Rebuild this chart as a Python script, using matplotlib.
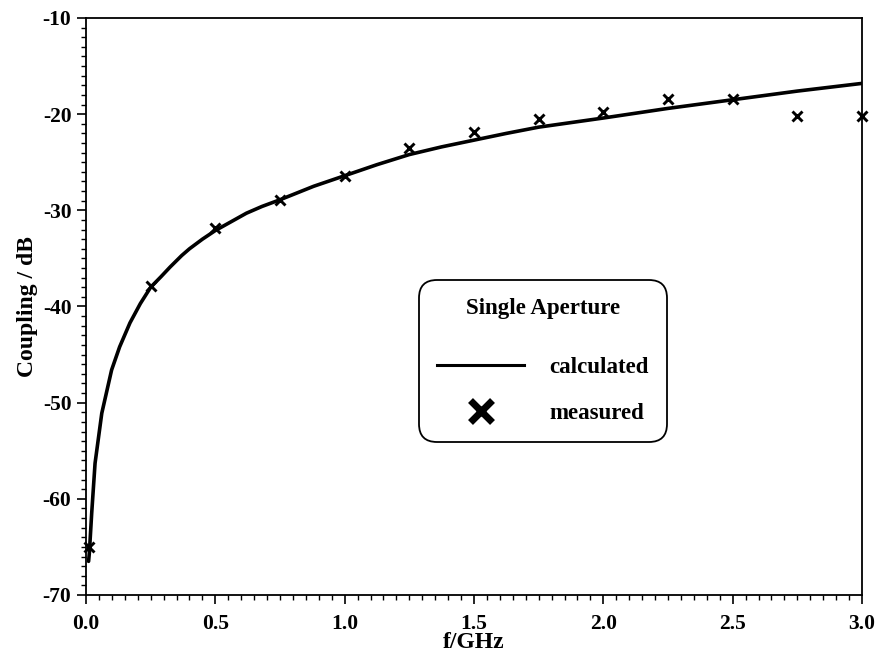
import matplotlib
matplotlib.use("Agg")
import matplotlib.pyplot as plt
from matplotlib.lines import Line2D
from matplotlib.ticker import MultipleLocator

# calculated curve
calc_f = [0.010, 0.013, 0.022, 0.035, 0.061, 0.099, 0.13, 0.17, 0.21, 0.25,
          0.29, 0.325, 0.37, 0.40, 0.45, 0.50, 0.56, 0.62, 0.68, 0.75,
          0.88, 1.00, 1.125, 1.25, 1.375, 1.50, 1.625, 1.75, 2.00, 2.25,
          2.50, 2.75, 3.00]
calc_db = [-66.5, -65.6, -61.5, -56.3, -51.1, -46.6, -44.2, -41.7, -39.7, -38.0,
           -36.9, -35.9, -34.7, -34.0, -33.0, -32.1, -31.2, -30.3, -29.6, -28.9,
           -27.5, -26.4, -25.25, -24.2, -23.4, -22.7, -22.0, -21.35, -20.4, -19.4,
           -18.5, -17.6, -16.8]

# measured points
meas_f = [0.01, 0.25, 0.50, 0.75, 1.00, 1.25, 1.50, 1.75, 2.00, 2.25, 2.50, 2.75, 3.00]
meas_db = [-65.0, -37.9, -31.8, -28.9, -26.4, -23.5, -21.85, -20.5, -19.8, -18.4,
           -18.4, -20.2, -20.2]

xticks = [0.0, 0.5, 1.0, 1.5, 2.0, 2.5, 3.0]
yticks = [-70, -60, -50, -40, -30, -20, -10]

plt.rcParams['font.family'] = ['Liberation Serif', 'DejaVu Serif']
plt.rcParams['font.weight'] = 'bold'

fig = plt.figure(figsize=(8.77, 6.63), dpi=100)
ax = fig.add_axes([86 / 877, 1 - 595 / 663, 776 / 877, 577 / 663])

ax.plot(calc_f, calc_db, color='black', lw=2.6, solid_capstyle='round',
        solid_joinstyle='round', zorder=2)
ax.plot(meas_f, meas_db, linestyle='none', marker='x', color='black',
        ms=7.5, mew=2.1, zorder=3, clip_on=False)

ax.set_xlim(0, 3.0)
ax.set_ylim(-70, -10)
ax.set_xticks(xticks)
ax.set_xticklabels([f"{v:.1f}" for v in xticks])
ax.set_yticks(yticks)
ax.set_yticklabels([str(v) for v in yticks])
ax.xaxis.set_minor_locator(MultipleLocator(0.05))
ax.yaxis.set_minor_locator(MultipleLocator(1))
ax.tick_params(which='major', direction='out', length=6.5, width=1.2,
               labelsize=15.5, pad=4, top=False, right=False)
ax.tick_params(which='minor', direction='out', length=3.5, width=1.0,
               top=False, right=False)
ax.tick_params(axis='x', which='major', pad=7)
for sp in ax.spines.values():
    sp.set_linewidth(1.3)

ax.set_xlabel('f/GHz', fontsize=17, fontweight='bold', labelpad=-1)
ax.set_ylabel('Coupling / dB', fontsize=17, fontweight='bold', labelpad=3)

handles = [Line2D([], [], color='black', lw=2.2),
           Line2D([], [], linestyle='none', marker='x', color='black', ms=16, mew=5)]
leg = ax.legend(handles, ['calculated', 'measured'],
                title='Single Aperture',
                loc='upper left', bbox_to_anchor=(0.429, 0.546),
                borderaxespad=0, fancybox=True, frameon=True,
                prop={'size': 16.5, 'weight': 'bold'},
                title_fontproperties={'size': 16.5, 'weight': 'bold'},
                handlelength=3.8, handletextpad=1.1, labelspacing=1.1,
                borderpad=0.8, framealpha=1, edgecolor='black')
leg.get_frame().set_linewidth(1.3)
leg.get_frame().set_boxstyle('round,pad=0,rounding_size=0.8')
leg._legend_box.sep = 27

fig.savefig('out.png', dpi=100)
